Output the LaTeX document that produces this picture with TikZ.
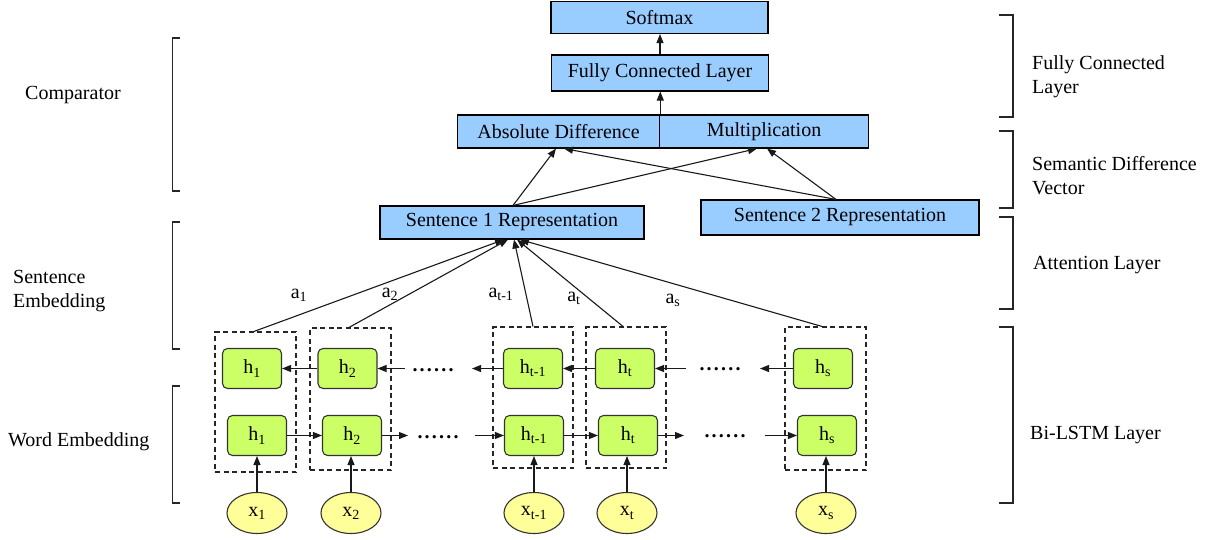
\documentclass[tikz,border=0pt]{standalone}
\usepackage{fontspec}
\setmainfont{Liberation Serif}
\newfontfamily\timesfont{Liberation Serif}
\usetikzlibrary{arrows.meta,shapes.geometric}
\definecolor{boxblue}{HTML}{99CCFF}
\definecolor{boxgreen}{HTML}{CCFF66}
\definecolor{boxyellow}{HTML}{FFFF99}
\newcommand\mydots{\textbf{.\hspace{2.2pt}.\hspace{2.2pt}.\hspace{2.2pt}.\hspace{2.2pt}.\hspace{2.2pt}.}}
\begin{document}
\begin{tikzpicture}[x=1pt,y=-1pt,
  font=\timesfont\fontsize{20}{24}\selectfont,
  bluebox/.style={draw=black, fill=boxblue, line width=1.1pt, minimum height=33pt, inner sep=0pt},
  gbox/.style={draw=black!80, fill=boxgreen, rounded corners=5pt, minimum width=59pt, minimum height=40pt, line width=1.1pt, inner sep=0pt},
  xell/.style={ellipse, draw=black!80, fill=boxyellow, minimum width=60pt, minimum height=41pt, inner sep=0pt, line width=1.1pt},
  colbox/.style={draw=black!85, dash pattern=on 5pt off 3.5pt, line width=1.1pt, inner sep=0pt},
  arr/.style={-{Triangle[length=9pt,width=7pt]}, line width=1.1pt, black!90},
  brk/.style={line width=1.1pt, black!85},
  lbl/.style={anchor=west, align=left, inner sep=0pt},
  dotsnode/.style={inner sep=0pt}
]
\useasboundingbox (0,0) rectangle (1216,539);

% ---------- upper blue boxes ----------
\node[bluebox, minimum width=217pt, minimum height=32pt] (softmax) at (659.5,17.5) {Softmax};
\node[bluebox, minimum width=217pt, minimum height=36pt] (fcl) at (660,73) {Fully Connected Layer};
\node[bluebox, minimum width=202.5pt] (absdiff) at (558.5,131.5) {Absolute Difference};
\node[bluebox, minimum width=208.5pt] (mult) at (764,131.5) {Multiplication};
\node[bluebox, minimum width=264pt] (s1) at (512,222.5) {Sentence 1 Representation};
\node[bluebox, minimum width=278pt, minimum height=35pt] (s2) at (840,217.5) {Sentence 2 Representation};

% ---------- columns (dashed) ----------
\node[colbox, minimum width=81pt, minimum height=140pt] (c1) at (255.5,402) {};
\node[colbox, minimum width=81pt, minimum height=142pt] (c2) at (350.5,399) {};
\node[colbox, minimum width=80pt, minimum height=141pt] (ctm) at (533,397.5) {};
\node[colbox, minimum width=80pt, minimum height=141pt] (ct) at (626,397.5) {};
\node[colbox, minimum width=81pt, minimum height=143pt] (cs) at (825.5,398.5) {};

% ---------- hidden states ----------
\node[gbox] (h1t) at (252,368.5) {h\textsubscript{1}};
\node[gbox] (h2t) at (347.5,368.5) {h\textsubscript{2}};
\node[gbox] (htmt) at (533,368.5) {h\textsubscript{t-1}};
\node[gbox] (htt) at (625,368.5) {h\textsubscript{t}};
\node[gbox] (hst) at (823,368.5) {h\textsubscript{s}};

\node[gbox] (h1b) at (257,435.5) {h\textsubscript{1}};
\node[gbox] (h2b) at (352,435.5) {h\textsubscript{2}};
\node[gbox] (htmb) at (534,435.5) {h\textsubscript{t-1}};
\node[gbox] (htb) at (628,435.5) {h\textsubscript{t}};
\node[gbox] (hsb) at (827,435.5) {h\textsubscript{s}};

% ---------- inputs ----------
\node[xell] (x1) at (257,513) {x\textsubscript{1}};
\node[xell] (x2) at (351,513) {x\textsubscript{2}};
\node[xell] (xtm) at (534,513) {x\textsubscript{t-1}};
\node[xell] (xt) at (627,513) {x\textsubscript{t}};
\node[xell] (xs) at (826,513) {x\textsubscript{s}};

% ---------- free ends of recurrent arrows ----------
\coordinate (f1) at (408,435.5);
\coordinate (f2) at (475,435.5);
\coordinate (f3) at (684,435.5);
\coordinate (f4) at (765,435.5);
\coordinate (b1) at (405,368.5);
\coordinate (b2) at (472,368.5);
\coordinate (b3) at (686,368.5);
\coordinate (b4) at (760,368.5);

% dots
\node[dotsnode] (d1) at (438,437) {\mydots};
\node[dotsnode] (d2) at (433,370) {\mydots};
\node[dotsnode] (d3) at (725,436) {\mydots};
\node[dotsnode] (d4) at (720,369) {\mydots};

% ---------- input arrows ----------
\foreach \a/\b in {x1/h1b, x2/h2b, xtm/htmb, xt/htb, xs/hsb}
  \draw[arr] (\a.north) -- (\a.north |- \b.south);

% ---------- forward LSTM ----------
\draw[arr] (h1b.east) -- (h2b.west);
\draw[arr] (h2b.east) -- (f1);
\draw[arr] (f2) -- (htmb.west);
\draw[arr] (htmb.east) -- (htb.west);
\draw[arr] (htb.east) -- (f3);
\draw[arr] (f4) -- (hsb.west);

% ---------- backward LSTM ----------
\draw[arr] (h2t.west) -- (h1t.east);
\draw[arr] (b1) -- (h2t.east);
\draw[arr] (htmt.west) -- (b2);
\draw[arr] (htt.west) -- (htmt.east);
\draw[arr] (b3) -- (htt.east);
\draw[arr] (hst.west) -- (b4);

% ---------- attention ----------
\draw[arr] ([xshift=-1.5pt]c1.north) -- ([xshift=-8pt]s1.south);
\draw[arr] ([xshift=-1.5pt]c2.north) -- ([xshift=-4pt]s1.south);
\draw[arr] (ctm.north) -- ([xshift=2pt]s1.south);
\draw[arr] ([xshift=-3pt]ct.north) -- ([xshift=5pt]s1.south);
\draw[arr] ([xshift=-3.5pt]cs.north) -- ([xshift=8pt]s1.south);

\node (a1) at (299,295) {a\textsubscript{1}};
\node (a2) at (390,294) {a\textsubscript{2}};
\node (atm) at (501,294) {a\textsubscript{t-1}};
\node (at) at (574,298) {a\textsubscript{t}};
\node (as) at (673,300) {a\textsubscript{s}};

% ---------- comparator arrows ----------
\draw[arr] ([xshift=1pt]s1.north) -- ([xshift=-2.5pt]absdiff.south);
\draw[arr] ([xshift=1pt]s1.north) -- ([xshift=-7pt]mult.south);
\draw[arr] ([xshift=-4pt]s2.north) -- ([xshift=5.5pt]absdiff.south);
\draw[arr] ([xshift=-4pt]s2.north) -- ([xshift=3pt]mult.south);
\draw[arr] (absdiff.north east) -- (absdiff.north east |- fcl.south);
\draw[arr] (fcl.north) -- (fcl.north |- softmax.south);

% ---------- brackets left ----------
\draw[brk] (180,38) -- (172.5,38) -- (172.5,191) -- (180,191);
\draw[brk] (180,222) -- (172.5,222) -- (172.5,349) -- (180,349);
\draw[brk] (180,386) -- (172.5,386) -- (172.5,503) -- (180,503);

% ---------- brackets right ----------
\draw[brk] (999,15) -- (1013,15) -- (1013,117) -- (999,117);
\draw[brk] (999,131) -- (1013,131) -- (1013,208) -- (999,208);
\draw[brk] (999,217) -- (1013,217) -- (1013,309) -- (999,309);
\draw[brk] (999,327) -- (1013,327) -- (1013,503) -- (999,503);

% ---------- side labels ----------
\node[lbl] (lcomp) at (25,95) {Comparator};
\node[lbl] (lsent) at (13,291) {Sentence\\Embedding};
\node[lbl] (lword) at (8,442) {Word Embedding};
\node[lbl] (rfcl) at (1032,77) {Fully Connected\\Layer};
\node[lbl] (rsdv) at (1032,175.5) {Semantic Difference\\Vector};
\node[lbl] (ratt) at (1033,265) {Attention Layer};
\node[lbl] (rbil) at (1030,435) {Bi-LSTM Layer};
\end{tikzpicture}
\end{document}
